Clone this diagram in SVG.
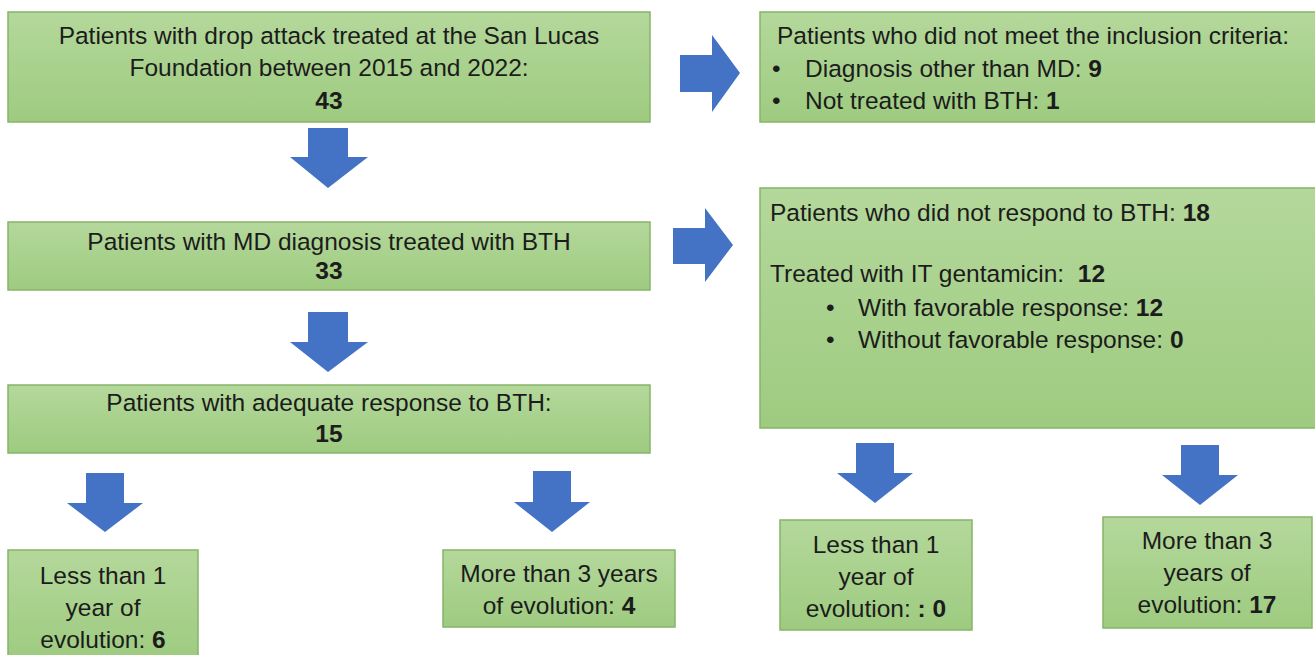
<svg xmlns="http://www.w3.org/2000/svg" width="1315" height="655" viewBox="0 0 1315 655">
<defs>
<linearGradient id="g" x1="0" y1="0" x2="0" y2="1">
<stop offset="0" stop-color="#b4d89b"/>
<stop offset="1" stop-color="#9ecb80"/>
</linearGradient>
<style>
.box{fill:url(#g);stroke:#86b468;stroke-width:1.5}
.t{font-family:"Liberation Sans",Arial,sans-serif;font-size:24.5px;fill:#1c1c1c}
.c{text-anchor:middle}
.b{font-weight:bold}
.arr{fill:#4472c4}
</style>
</defs>
<rect width="1315" height="655" fill="#ffffff"/>
<g id="n1">
<rect class="box" x="8" y="12" width="642" height="110"/>
<text class="t c" x="329" y="44">Patients with drop attack treated at the San Lucas</text>
<text class="t c" x="329" y="76">Foundation between 2015 and 2022:</text>
<text class="t c b" x="329" y="109">43</text>
</g>
<g id="n2">
<rect class="box" x="760" y="12" width="560" height="110"/>
<text class="t" x="777" y="44">Patients who did not meet the inclusion criteria:</text>
<text class="t" x="772" y="77">•</text>
<text class="t" x="805" y="77">Diagnosis other than MD: <tspan class="b">9</tspan></text>
<text class="t" x="772" y="109">•</text>
<text class="t" x="805" y="109">Not treated with BTH: <tspan class="b">1</tspan></text>
</g>
<g id="n3">
<rect class="box" x="8" y="222" width="642" height="68"/>
<text class="t c" x="329" y="250">Patients with MD diagnosis treated with BTH</text>
<text class="t c b" x="329" y="279">33</text>
</g>
<g id="n4">
<rect class="box" x="760" y="188" width="560" height="240"/>
<text class="t" x="770" y="221">Patients who did not respond to BTH: <tspan class="b">18</tspan></text>
<text class="t" x="770" y="282">Treated with IT gentamicin:&#160; <tspan class="b">12</tspan></text>
<text class="t" x="826" y="316">•</text>
<text class="t" x="858" y="316">With favorable response: <tspan class="b">12</tspan></text>
<text class="t" x="826" y="348">•</text>
<text class="t" x="858" y="348">Without favorable response: <tspan class="b">0</tspan></text>
</g>
<g id="n5">
<rect class="box" x="8" y="385" width="642" height="68"/>
<text class="t c" x="329" y="411">Patients with adequate response to BTH:</text>
<text class="t c b" x="329" y="442">15</text>
</g>
<g id="n6">
<rect class="box" x="8" y="550" width="190" height="110"/>
<text class="t c" x="103" y="584">Less than 1</text>
<text class="t c" x="103" y="616">year of</text>
<text class="t c" x="103" y="648">evolution: <tspan class="b">6</tspan></text>
</g>
<g id="n7">
<rect class="box" x="443" y="550" width="232" height="77"/>
<text class="t c" x="559" y="582">More than 3 years</text>
<text class="t c" x="559" y="614">of evolution: <tspan class="b">4</tspan></text>
</g>
<g id="n8">
<rect class="box" x="780" y="520" width="192" height="110"/>
<text class="t c" x="876" y="553">Less than 1</text>
<text class="t c" x="876" y="585">year of</text>
<text class="t c" x="876" y="617">evolution: <tspan class="b">: 0</tspan></text>
</g>
<g id="n9">
<rect class="box" x="1103" y="517" width="209" height="111"/>
<text class="t c" x="1207" y="549">More than 3</text>
<text class="t c" x="1207" y="581">years of</text>
<text class="t c" x="1207" y="613">evolution: <tspan class="b">17</tspan></text>
</g>
<g id="connectors">
<polygon class="arr" points="680,55 712,55 712,35 740,73 712,112 712,92 680,92"/>
<polygon class="arr" points="673,228 705,228 705,208 733,245 705,282 705,264 673,264"/>
<polygon class="arr" points="308,128 348,128 348,157 368,157 328,188 290,157 308,157"/>
<polygon class="arr" points="308,312 348,312 348,342 368,342 328,372 290,342 308,342"/>
<polygon class="arr" points="86,473 124,473 124,503 143,503 105,532 67,503 86,503"/>
<polygon class="arr" points="533,471 571,471 571,502 590,502 552,532 514,502 533,502"/>
<polygon class="arr" points="856,443 894,443 894,473 913,473 875,503 837,473 856,473"/>
<polygon class="arr" points="1181,445 1219,445 1219,475 1238,475 1200,505 1162,475 1181,475"/>
</g>
</svg>
